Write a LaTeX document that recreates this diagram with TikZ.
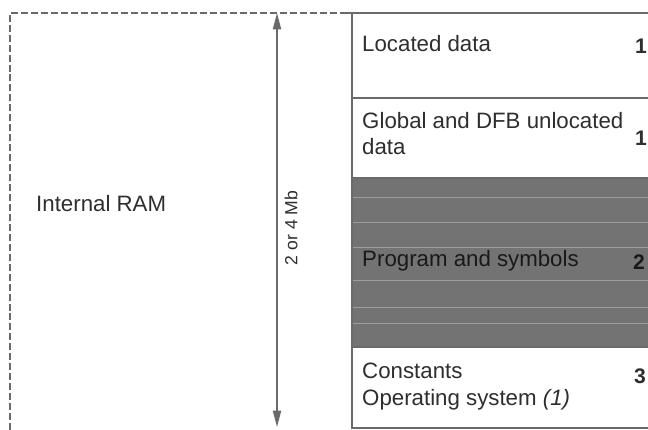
\documentclass[tikz,border=0pt]{standalone}
\usepackage{fontspec}
\setmainfont{Liberation Sans}
\usetikzlibrary{arrows.meta}
\definecolor{linegray}{HTML}{6A6A6A}
\definecolor{txtgray}{HTML}{2E2E2E}
\definecolor{darkzone}{HTML}{737373}
\tikzset{
  memtext/.style={anchor=base west, inner sep=0pt, text=txtgray,
    font=\fontsize{19}{23}\selectfont},
  memnum/.style={anchor=base west, inner sep=0pt, text=txtgray,
    font=\fontsize{18}{22}\selectfont\bfseries},
  ramline/.style={linegray, line width=1.2pt, dash pattern=on 6pt off 2.5pt},
  boxline/.style={linegray, line width=1.3pt}
}
\begin{document}
\begin{tikzpicture}[x=0.03cm, y=-0.03cm]
        \clip (0,0) rectangle (648,430);
        \fill[white] (0,0) rectangle (648,430);

        % Zone sombre (programme)
        \fill[darkzone] (352,178) rectangle (660,347);
        \foreach \ys in {197,222,247,280,307,323} {
            \draw[white!30!darkzone, line width=0.5pt] (352,\ys) -- (660,\ys);
        }

        % Cadre RAM interne (pointilles)
        \draw[ramline] (10,440) -- (10,13) -- (352,13);

        % Colonne memoire
        \draw[boxline] (342,13) -- (660,13);
        \draw[boxline] (352,13) -- (352,428) -- (660,428);
        \draw[boxline] (352,98) -- (660,98);
        \draw[boxline] (352,178) -- (660,178);
        \draw[boxline] (352,347) -- (660,347);

        % Fleche de taille
        \coordinate (sizetop) at (277,13);
        \coordinate (sizebot) at (277,427);
        \draw[linegray, line width=1.3pt, {Triangle[length=14pt,width=7pt]}-{Triangle[length=14pt,width=7pt]}]
            (sizetop) -- (sizebot);
        \node[rotate=90, inner sep=0pt, text=txtgray,
            font=\fontsize{15}{18}\selectfont] (size) at (291,228) {2 or 4 Mb};

        % Textes
        \node[memtext] (ram) at (36,212) {Internal RAM};
        \node[memtext] (located) at (362,52) {Located data};
        \node[memtext, align=left] (global) at (362,155) {Global and DFB unlocated\\data};
        \node[memtext, text=black!90] (program) at (362,267) {Program and symbols};
        \node[memtext, align=left] (constants) at (362,405) {Constants\\Operating system \textit{(1)}};

        % Numeros
        \node[memnum] (n1) at (635,54) {1};
        \node[memnum] (n2) at (635,146) {1};
        \node[memnum, text=black!90] (n3) at (633,270) {2};
        \node[memnum] (n4) at (634,383) {3};
    \end{tikzpicture}
\end{document}
